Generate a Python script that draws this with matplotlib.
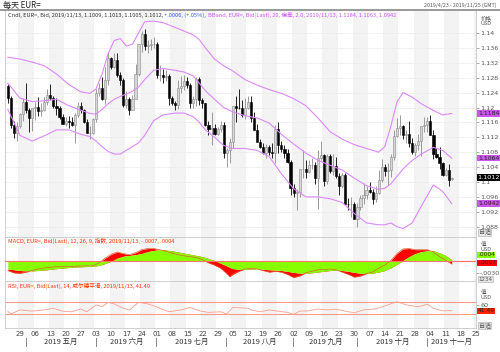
import matplotlib
matplotlib.use('Agg')
import matplotlib.pyplot as plt
import matplotlib.transforms as mtransforms
from matplotlib.lines import Line2D
import numpy as np
import pandas as pd

plt.rcParams['font.family'] = ['Noto Sans CJK SC', 'DejaVu Sans']

# ---------------------------------------------------------
# data (EUR= daily)
# ---------------------------------------------------------
dates = pd.bdate_range('2019-04-23', '2019-11-13')

opens = [1.1257, 1.1226, 1.1153, 1.1131, 1.1149, 1.1183, 1.1215, 1.1193, 1.1171,
         1.1199, 1.1201, 1.1190, 1.1192, 1.1216, 1.1234, 1.1225, 1.1205, 1.1200, 1.1174,
         1.1157, 1.1165, 1.1161, 1.1152, 1.1180, 1.1204, 1.1193, 1.1161, 1.1132, 1.1132,
         1.1168, 1.1240, 1.1253, 1.1222, 1.1275, 1.1332, 1.1309, 1.1328, 1.1288, 1.1275,
         1.1208, 1.1222, 1.1194, 1.1222, 1.1290, 1.1370, 1.1398, 1.1365, 1.1368, 1.1370,
         1.1370, 1.1286, 1.1286, 1.1282, 1.1285, 1.1226, 1.1213, 1.1206, 1.1252, 1.1257,
         1.1271, 1.1260, 1.1211, 1.1223, 1.1276, 1.1219, 1.1211, 1.1152, 1.1142, 1.1146,
         1.1129, 1.1143, 1.1152, 1.1077, 1.1085, 1.1107, 1.1203, 1.1200, 1.1198, 1.1180,
         1.1200, 1.1214, 1.1171, 1.1140, 1.1107, 1.1093, 1.1079, 1.1094, 1.1081, 1.1079,
         1.1143, 1.1098, 1.1089, 1.1077, 1.1055, 1.0985, 1.0970, 1.0973, 1.1035, 1.1035,
         1.1027, 1.1045, 1.1045, 1.1012, 1.1065, 1.1073, 1.1003, 1.1071, 1.1030, 1.1043,
         1.1017, 1.0990, 1.1020, 1.0942, 1.0940, 1.0940, 1.0900, 1.0932, 1.0957, 1.0965,
         1.0978, 1.0972, 1.0955, 1.0971, 1.1005, 1.1040, 1.1030, 1.1033, 1.1067, 1.1123,
         1.1144, 1.1150, 1.1125, 1.1130, 1.1105, 1.1080, 1.1100, 1.1110, 1.1150, 1.1152,
         1.1165, 1.1127, 1.1075, 1.1067, 1.1050, 1.1018, 1.1031, 1.1009]
highs = [1.1264, 1.1230, 1.1163, 1.1160, 1.1186, 1.1225, 1.1265, 1.1200, 1.1200,
         1.1215, 1.1228, 1.1211, 1.1229, 1.1251, 1.1264, 1.1230, 1.1225, 1.1205, 1.1182,
         1.1175, 1.1178, 1.1175, 1.1186, 1.1214, 1.1214, 1.1197, 1.1168, 1.1150, 1.1172,
         1.1250, 1.1265, 1.1282, 1.1309, 1.1348, 1.1335, 1.1346, 1.1345, 1.1296, 1.1278,
         1.1245, 1.1228, 1.1233, 1.1318, 1.1370, 1.1406, 1.1412, 1.1380, 1.1385, 1.1390,
         1.1375, 1.1315, 1.1303, 1.1300, 1.1290, 1.1232, 1.1217, 1.1275, 1.1285, 1.1286,
         1.1282, 1.1265, 1.1230, 1.1282, 1.1283, 1.1225, 1.1213, 1.1165, 1.1188, 1.1157,
         1.1148, 1.1164, 1.1162, 1.1090, 1.1118, 1.1205, 1.1230, 1.1250, 1.1220, 1.1225,
         1.1230, 1.1230, 1.1188, 1.1155, 1.1115, 1.1104, 1.1103, 1.1098, 1.1105, 1.1153,
         1.1162, 1.1110, 1.1098, 1.1088, 1.1060, 1.0995, 1.0980, 1.1035, 1.1085, 1.1060,
         1.1060, 1.1065, 1.1055, 1.1087, 1.1110, 1.1075, 1.1075, 1.1075, 1.1075, 1.1068,
         1.1025, 1.1025, 1.1023, 1.0958, 1.0960, 1.0945, 1.0943, 1.0965, 1.0998, 1.0990,
         1.0999, 1.0980, 1.0990, 1.1033, 1.1063, 1.1048, 1.1050, 1.1074, 1.1139, 1.1173,
         1.1179, 1.1152, 1.1140, 1.1163, 1.1118, 1.1105, 1.1130, 1.1145, 1.1175, 1.1175,
         1.1179, 1.1140, 1.1092, 1.1093, 1.1055, 1.1037, 1.1047, 1.1013]
lows = [1.1211, 1.1144, 1.1118, 1.1110, 1.1145, 1.1164, 1.1186, 1.1135, 1.1136,
        1.1167, 1.1176, 1.1176, 1.1190, 1.1208, 1.1220, 1.1200, 1.1180, 1.1168, 1.1155,
        1.1150, 1.1146, 1.1150, 1.1105, 1.1174, 1.1186, 1.1158, 1.1131, 1.1116, 1.1130,
        1.1160, 1.1230, 1.1220, 1.1210, 1.1260, 1.1303, 1.1305, 1.1282, 1.1260, 1.1201,
        1.1200, 1.1181, 1.1194, 1.1225, 1.1285, 1.1350, 1.1355, 1.1345, 1.1355, 1.1360,
        1.1280, 1.1270, 1.1265, 1.1270, 1.1207, 1.1207, 1.1192, 1.1195, 1.1238, 1.1248,
        1.1252, 1.1200, 1.1200, 1.1205, 1.1206, 1.1200, 1.1150, 1.1127, 1.1100, 1.1125,
        1.1125, 1.1133, 1.1065, 1.1040, 1.1050, 1.1090, 1.1160, 1.1195, 1.1175, 1.1170,
        1.1195, 1.1160, 1.1139, 1.1110, 1.1091, 1.1075, 1.1065, 1.1072, 1.1065, 1.1051,
        1.1078, 1.1081, 1.1064, 1.1052, 1.0965, 1.0960, 1.0926, 1.0960, 1.1010, 1.1010,
        1.1025, 1.1035, 1.0995, 1.0927, 1.1060, 1.0990, 1.0995, 1.1025, 1.1020, 1.1010,
        1.0965, 1.0985, 1.0940, 1.0925, 1.0905, 1.0903, 1.0879, 1.0925, 1.0940, 1.0955,
        1.0970, 1.0940, 1.0945, 1.0968, 1.1000, 1.1017, 1.0991, 1.1013, 1.1060, 1.1120,
        1.1125, 1.1115, 1.1105, 1.1095, 1.1075, 1.1070, 1.1085, 1.1070, 1.1135, 1.1135,
        1.1127, 1.1063, 1.1065, 1.1035, 1.1017, 1.1015, 1.0990, 1.1005]
closes = [1.1226, 1.1153, 1.1131, 1.1149, 1.1183, 1.1215, 1.1193, 1.1171, 1.1199,
          1.1201, 1.1190, 1.1192, 1.1216, 1.1234, 1.1225, 1.1205, 1.1200, 1.1174, 1.1157,
          1.1165, 1.1161, 1.1152, 1.1180, 1.1204, 1.1193, 1.1161, 1.1132, 1.1132, 1.1168,
          1.1240, 1.1253, 1.1222, 1.1275, 1.1332, 1.1309, 1.1328, 1.1288, 1.1275, 1.1208,
          1.1222, 1.1194, 1.1222, 1.1290, 1.1370, 1.1398, 1.1365, 1.1368, 1.1370, 1.1370,
          1.1286, 1.1286, 1.1282, 1.1285, 1.1226, 1.1213, 1.1206, 1.1252, 1.1257, 1.1271,
          1.1260, 1.1211, 1.1223, 1.1276, 1.1219, 1.1211, 1.1152, 1.1142, 1.1146, 1.1129,
          1.1143, 1.1152, 1.1077, 1.1085, 1.1107, 1.1203, 1.1200, 1.1198, 1.1180, 1.1200,
          1.1214, 1.1171, 1.1140, 1.1107, 1.1093, 1.1079, 1.1094, 1.1081, 1.1079, 1.1143,
          1.1098, 1.1089, 1.1077, 1.1055, 1.0985, 1.0970, 1.0973, 1.1035, 1.1035, 1.1027,
          1.1045, 1.1045, 1.1012, 1.1065, 1.1073, 1.1003, 1.1071, 1.1030, 1.1043, 1.1017,
          1.0990, 1.1020, 1.0942, 1.0940, 1.0940, 1.0900, 1.0932, 1.0957, 1.0965, 1.0978,
          1.0972, 1.0955, 1.0971, 1.1005, 1.1040, 1.1030, 1.1033, 1.1067, 1.1123, 1.1144,
          1.1150, 1.1125, 1.1130, 1.1105, 1.1080, 1.1100, 1.1110, 1.1150, 1.1152, 1.1165,
          1.1127, 1.1075, 1.1067, 1.1050, 1.1018, 1.1031, 1.1006, 1.1012]

# Bollinger bands (20, 2.0) as drawn, sampled every few sessions
bb_idx = [0, 4, 8, 12, 16, 20, 24, 27, 29, 31, 33, 35, 37, 39, 41, 43, 45, 48, 51,
          55, 58, 61, 63, 65, 68, 71, 74, 78, 82, 86, 90, 94, 98, 102, 106, 110,
          114, 118, 122, 124, 126, 128, 130, 133, 136, 140, 143, 146]
bb_upper = [1.1335, 1.1330, 1.1322, 1.1312, 1.1290, 1.1262, 1.1242, 1.1238, 1.1250,
            1.1290, 1.1345, 1.1380, 1.1385, 1.1365, 1.1370, 1.1400, 1.1430, 1.1432,
            1.1428, 1.1415, 1.1405, 1.1395, 1.1382, 1.1360, 1.1330, 1.1312, 1.1298,
            1.1275, 1.1260, 1.1248, 1.1238, 1.1224, 1.1205, 1.1172, 1.1135, 1.1115,
            1.1100, 1.1090, 1.1080, 1.1095, 1.1150, 1.1215, 1.1240, 1.1228, 1.1210,
            1.1192, 1.1180, 1.1184]
bb_mid = [1.1265, 1.1225, 1.1216, 1.1218, 1.1222, 1.1205, 1.1193, 1.1184, 1.1182,
          1.1195, 1.1210, 1.1222, 1.1230, 1.1236, 1.1244, 1.1255, 1.1275, 1.1300,
          1.1305, 1.1300, 1.1295, 1.1285, 1.1265, 1.1245, 1.1222, 1.1200, 1.1188,
          1.1178, 1.1172, 1.1158, 1.1128, 1.1102, 1.1078, 1.1058, 1.1045, 1.1032,
          1.1010, 1.0990, 1.0980, 1.0983, 1.0995, 1.1015, 1.1035, 1.1058, 1.1075,
          1.1093, 1.1085, 1.1064]
bb_lower = [1.1195, 1.1125, 1.1110, 1.1124, 1.1140, 1.1140, 1.1128, 1.1122, 1.1110,
            1.1095, 1.1082, 1.1075, 1.1075, 1.1085, 1.1095, 1.1105, 1.1125, 1.1165,
            1.1180, 1.1185, 1.1185, 1.1175, 1.1160, 1.1140, 1.1120, 1.1098, 1.1090,
            1.1090, 1.1085, 1.1068, 1.1022, 1.0982, 1.0960, 1.0960, 1.0955, 1.0945,
            1.0915, 1.0890, 1.0885, 1.0885, 1.0890, 1.0880, 1.0875, 1.0890, 1.0935,
            1.0992, 1.0975, 1.0942]

# MACD (12, 26, 9) and its signal line
macd_idx = [0, 2, 4, 6, 8, 10, 13, 16, 19, 22, 25, 28, 30, 32, 34, 36, 38, 40, 42,
            44, 46, 48, 50, 52, 54, 56, 58, 60, 62, 64, 66, 68, 70, 72, 73, 74, 76,
            78, 80, 82, 84, 86, 88, 90, 92, 94, 96, 98, 100, 102, 104, 106, 108,
            110, 112, 114, 116, 118, 120, 122, 124, 126, 128, 130, 132, 134, 136,
            138, 140, 142, 144, 146]
macd = [-0.0024, -0.0030, -0.0031, -0.0028, -0.0024, -0.0020, -0.0016, -0.0014,
        -0.0014, -0.0013, -0.0012, -0.0012, -0.0004, 0.0008, 0.0018, 0.0024,
        0.0020, 0.0017, 0.0022, 0.0030, 0.0033, 0.0033, 0.0030, 0.0026, 0.0021,
        0.0017, 0.0014, 0.0012, 0.0010, 0.0004, -0.0004, -0.0010, -0.0018,
        -0.0032, -0.0040, -0.0034, -0.0026, -0.0020, -0.0018, -0.0020, -0.0024,
        -0.0028, -0.0026, -0.0028, -0.0034, -0.0042, -0.0038, -0.0030, -0.0026,
        -0.0022, -0.0022, -0.0020, -0.0022, -0.0028, -0.0034, -0.0041, -0.0038,
        -0.0032, -0.0028, -0.0018, -0.0010, 0.0002, 0.0020, 0.0032, 0.0033,
        0.0030, 0.0030, 0.0030, 0.0024, 0.0012, 0.0003, -0.0007]
signal = [-0.0020, -0.0022, -0.0024, -0.0025, -0.0025, -0.0024, -0.0022, -0.0019,
          -0.0017, -0.0015, -0.0014, -0.0013, -0.0011, -0.0006, 0.0000, 0.0008,
          0.0013, 0.0015, 0.0017, 0.0020, 0.0025, 0.0028, 0.0030, 0.0029, 0.0027,
          0.0024, 0.0021, 0.0018, 0.0015, 0.0012, 0.0007, 0.0002, -0.0005,
          -0.0012, -0.0016, -0.0019, -0.0021, -0.0021, -0.0020, -0.0020, -0.0021,
          -0.0022, -0.0023, -0.0024, -0.0026, -0.0029, -0.0031, -0.0031, -0.0030,
          -0.0028, -0.0026, -0.0024, -0.0023, -0.0024, -0.0026, -0.0029, -0.0031,
          -0.0032, -0.0031, -0.0028, -0.0024, -0.0017, -0.0008, 0.0002, 0.0012,
          0.0020, 0.0025, 0.0027, 0.0027, 0.0022, 0.0015, 0.0004]

# RSI (14, Wilder)
rsi_idx = [0, 1, 4, 8, 12, 15, 18, 21, 24, 26, 29, 31, 33, 35, 38, 40, 43, 46, 49,
           50, 53, 57, 60, 63, 66, 70, 72, 74, 79, 80, 83, 86, 88, 92, 94, 96, 99,
           102, 105, 108, 112, 114, 117, 121, 125, 128, 131, 135, 138, 140, 143, 146]
rsi = [40, 31, 44, 40, 44, 49, 40, 38, 47, 38, 60, 54, 68, 63, 49, 44, 68, 63, 54,
       49, 38, 44, 52, 41, 36, 38, 31, 52, 49, 44, 38, 44, 41, 36, 30, 40, 41, 47,
       44, 46, 38, 35, 44, 47, 60, 70, 60, 54, 62, 49, 41, 41.49]

month_names = ['五月', '六月', '七月', '八月', '九月', '十月', '十一月']

# ---------------------------------------------------------
# layout helpers (pixel boxes in a 500x352 canvas)
# ---------------------------------------------------------
W, H = 500, 352
fig = plt.figure(figsize=(W / 100, H / 100), dpi=100)
fig.patch.set_facecolor('white')


def box(x0, y0, x1, y1):
    return [x0 / W, 1 - y1 / H, (x1 - x0) / W, (y1 - y0) / H]


ax = fig.add_axes(box(5, 11, 476, 237))
ax_m = fig.add_axes(box(5, 237, 476, 281), sharex=ax)
ax_r = fig.add_axes(box(5, 281, 476, 328), sharex=ax)

n = len(closes)
idx = np.arange(n)
axis_days = pd.bdate_range('2019-04-23', '2019-11-29')
xmin, xmax = -0.93, 154.0

grey_txt = '#555555'
violet = '#dd88ff'
tag_violet = '#cc55ee'
tag_font = ['DejaVu Sans']

for a in (ax, ax_m, ax_r):
    a.set_xlim(xmin, xmax)
    for k, d in enumerate(axis_days):
        if d.weekday() == 0 and ((d - pd.Timestamp('2019-04-29')).days // 7) % 2 == 0:
            a.axvspan(k - 0.5, k + 4.5, color='#f3f3f3', zorder=0, lw=0)
    for s in a.spines.values():
        s.set_color('#c8c8c8')
        s.set_linewidth(0.6)
    a.tick_params(axis='x', length=0, labelbottom=False)
    a.yaxis.tick_right()
    a.tick_params(axis='y', length=2, width=0.5, color='#888888', pad=1,
                  labelsize=4.6, labelcolor=grey_txt)
ax.spines['top'].set_visible(False)

# ---------------------------------------------------------
# main panel: candles + bands
# ---------------------------------------------------------
yt = np.round(np.arange(1.088, 1.1401, 0.004), 3)
ax.set_yticks(yt)
ax.set_yticklabels([f'{v:.3f}'.rstrip('0') for v in yt], family=tag_font)
for v in yt:
    ax.axhline(v, color='#ececec', lw=0.5, zorder=0.5)
ax.set_ylim(1.08523, 1.14591)

o = np.array(opens); h = np.array(highs); l = np.array(lows); c = np.array(closes)
up = c >= o
ax.vlines(idx[up], l[up], h[up], color='#8a8a8a', lw=0.6, zorder=2)
ax.vlines(idx[~up], l[~up], h[~up], color='black', lw=0.6, zorder=2)
body = np.maximum(np.abs(c - o), 0.00008)
ax.bar(idx[up], body[up], bottom=np.minimum(o, c)[up], width=0.7,
       color='#d6d6d6', edgecolor='#8a8a8a', linewidth=0.4, zorder=3)
ax.bar(idx[~up], body[~up], bottom=np.minimum(o, c)[~up], width=0.7,
       color='black', edgecolor='black', linewidth=0.4, zorder=3)

for band in (bb_upper, bb_mid, bb_lower):
    ax.plot(bb_idx, band, color=violet, lw=0.8, zorder=4)

# value tags on the price scale
ytr = mtransforms.blended_transform_factory(ax.transAxes, ax.transData)
for val in (bb_upper[-1], bb_mid[-1], bb_lower[-1]):
    ax.text(1.004, val, f'{val:.4f}', transform=ytr, fontsize=4.4, va='center',
            ha='left', color='#222222', zorder=10, family=tag_font,
            bbox=dict(facecolor=tag_violet, edgecolor='none', pad=0.5), clip_on=False)
ax.text(1.003, closes[-1], f'{closes[-1]:.4f}', transform=ytr, fontsize=4.6,
        va='center', ha='left', color='white', zorder=10, family=tag_font,
        bbox=dict(facecolor='black', edgecolor='none', pad=0.4), clip_on=False)
ax.text(1.010, 1.1447, '价格\nUSD', transform=ytr, fontsize=4.0, va='top',
        ha='left', color=grey_txt, linespacing=1.0)
ax.text(1.006, 1.0865, '自适', transform=ytr, fontsize=4.3, va='center',
        ha='left', color=grey_txt,
        bbox=dict(facecolor='#e6e6e6', edgecolor='#aaaaaa', pad=0.4, lw=0.4))

# header line of the main panel
t1 = ax.text(0.006, 0.99, 'Cndl, EUR=, Bid, 2019/11/13, 1.1009, 1.1013, 1.1005, 1.1012, ',
             transform=ax.transAxes, fontsize=4.1, va='top', ha='left', color='#333333')
t2 = ax.annotate('+.0006, (+.05%), ', xy=(1, 0), xycoords=t1, fontsize=4.1,
                 va='bottom', ha='left', color='#3355ff')
ax.annotate('BBand, EUR=, Bid(Last), 20, 偏差, 2.0, 2019/11/13, 1.1184, 1.1063, 1.0942',
            xy=(1, 0), xycoords=t2, fontsize=4.1, va='bottom', ha='left', color='#cc55ee')

# ---------------------------------------------------------
# MACD panel
# ---------------------------------------------------------
ax_m.set_ylim(-0.00512, 0.00629)
ax_m.set_yticks([-0.003])
ax_m.set_yticklabels(['-.0030'], family=tag_font)
ax_m.fill_between(macd_idx, macd, signal, color='#ff0000', lw=0, zorder=2)
ax_m.fill_between(macd_idx, signal, 0, color='#88ff00', lw=0, zorder=3)
ax_m.plot(macd_idx, macd, color='#e06030', lw=0.5, zorder=4)
ax_m.axhline(0, color='#ff7070', lw=0.8, zorder=5)
ax_m.text(0.006, 0.97, 'MACD, EUR=, Bid(Last), 12, 26, 9, 指数, 2019/11/13, -.0007, .0004',
          transform=ax_m.transAxes, fontsize=4.1, va='top', ha='left', color='#ff3300')
ytm = mtransforms.blended_transform_factory(ax_m.transAxes, ax_m.transData)
ax_m.text(1.010, 0.0050, '值\nUSD', transform=ytm, fontsize=4.0, va='top', ha='left',
          color=grey_txt, linespacing=1.0)
ax_m.text(1.004, 0.0017, '.0004', transform=ytm, fontsize=4.3, va='center', ha='left',
          color='#222222', family=tag_font,
          bbox=dict(facecolor='#88ff00', edgecolor='none', pad=0.3))
ax_m.text(1.004, -0.0004, '-.0007', transform=ytm, fontsize=4.3, va='center', ha='left',
          color='#222222', family=tag_font,
          bbox=dict(facecolor='#ff0000', edgecolor='none', pad=0.3))
ax_m.text(1.006, -0.0047, '1234', transform=ytm, fontsize=4.0, va='center', ha='left',
          color=grey_txt, family=tag_font,
          bbox=dict(facecolor='#e6e6e6', edgecolor='#aaaaaa', pad=0.3, lw=0.4))

# ---------------------------------------------------------
# RSI panel
# ---------------------------------------------------------
ax_r.set_ylim(-13.5, 135.7)
ax_r.set_yticks([60])
ax_r.set_yticklabels(['60'], family=tag_font)
ax_r.axhline(70, color='#ff9a8a', lw=0.8, zorder=2)
ax_r.axhline(30, color='#ff9a8a', lw=0.8, zorder=2)
ax_r.plot(rsi_idx, rsi, color='#ffa08a', lw=0.6, zorder=3)
ax_r.text(0.006, 0.97, 'RSI, EUR=, Bid(Last), 14, 威尔德平滑, 2019/11/13, 41.49',
          transform=ax_r.transAxes, fontsize=4.1, va='top', ha='left', color='#ff3300')
ytr2 = mtransforms.blended_transform_factory(ax_r.transAxes, ax_r.transData)
ax_r.text(1.010, 107, '值\nUSD', transform=ytr2, fontsize=4.0, va='top', ha='left',
          color=grey_txt, linespacing=1.0)
ax_r.text(1.004, rsi[-1], '41.49', transform=ytr2, fontsize=4.3, va='center', ha='left',
          color='#222222', family=tag_font,
          bbox=dict(facecolor='#ff2200', edgecolor='none', pad=0.3))
ax_r.text(1.006, -7, '自适', transform=ytr2, fontsize=4.3, va='center', ha='left',
          color=grey_txt, bbox=dict(facecolor='#e6e6e6', edgecolor='#aaaaaa', pad=0.3, lw=0.4))

# ---------------------------------------------------------
# date axis
# ---------------------------------------------------------
mondays = [k for k, d in enumerate(axis_days) if d.weekday() == 0]
ax_r.set_xticks(mondays)
ax_r.set_xticklabels([axis_days[k].strftime('%d') for k in mondays], family=tag_font)
ax_r.tick_params(axis='x', labelbottom=True, length=0, pad=2, labelsize=5.0,
                 labelcolor='#444444')

xtr = mtransforms.blended_transform_factory(ax_r.transData, ax_r.transAxes)
firsts = [k for k in range(1, n) if dates[k].month != dates[k - 1].month]
edges = firsts + [xmax]
for m, k in enumerate(firsts):
    ax_r.text(k, -0.30, '|', transform=xtr, fontsize=5.5, ha='center', va='center',
              color='#444444', family=tag_font)
    ax_r.text((edges[m] + edges[m + 1]) / 2, -0.30, f'2019 {month_names[m]}',
              transform=xtr, fontsize=5.4, ha='center', va='center', color='#333333')

# ---------------------------------------------------------
# title strip
# ---------------------------------------------------------
fig.text(3 / W, 1 - 5.5 / H, '每天 EUR=', fontsize=5.8, va='center', ha='left', color='#222222')
fig.text(497 / W, 1 - 5.5 / H, '2019/4/23 - 2019/11/25 (GMT)', fontsize=3.8, va='center',
         ha='right', color='#555555')
fig.add_artist(Line2D([0, 1], [1 - 10 / H, 1 - 10 / H], color='#888888', lw=1.2))

fig.savefig('out.png', dpi=100, facecolor='white')
